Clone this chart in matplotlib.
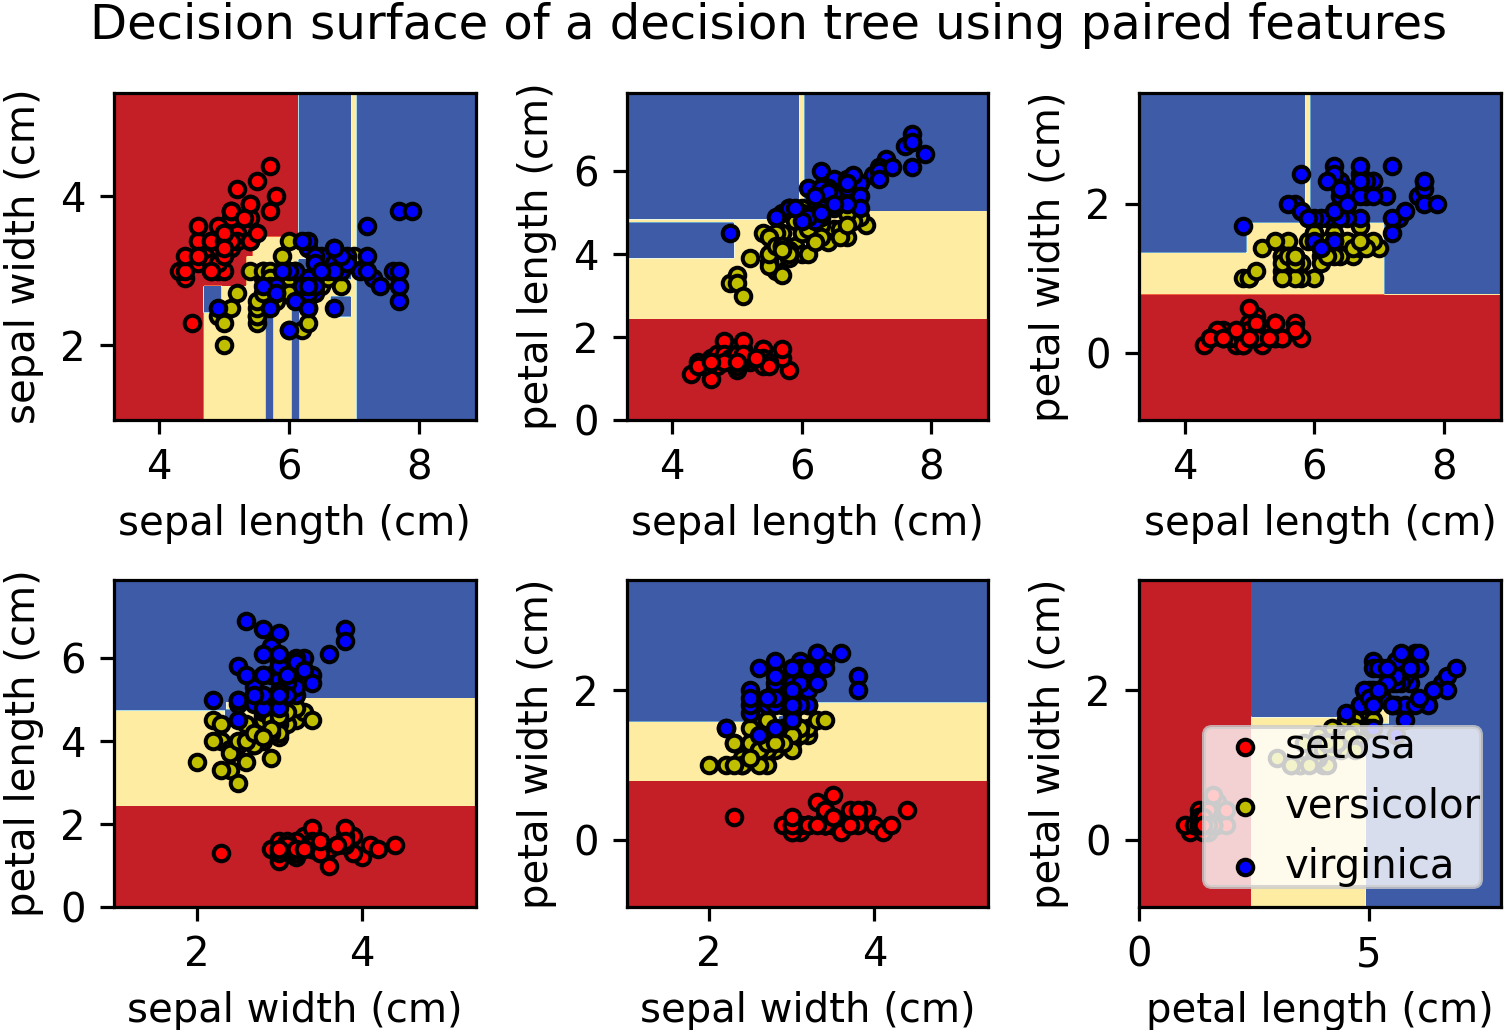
import numpy as np
import matplotlib
matplotlib.use("Agg")
import matplotlib.pyplot as plt

# iris measurements (cm), 50 setosa, 50 versicolor, 50 virginica
sepal_length = [
    5.1, 4.9, 4.7, 4.6, 5.0, 5.4, 4.6, 5.0, 4.4, 4.9, 5.4, 4.8, 4.8, 4.3, 5.8, 5.7, 5.4, 5.1, 5.7, 5.1,
    5.4, 5.1, 4.6, 5.1, 4.8, 5.0, 5.0, 5.2, 5.2, 4.7, 4.8, 5.4, 5.2, 5.5, 4.9, 5.0, 5.5, 4.9, 4.4, 5.1,
    5.0, 4.5, 4.4, 5.0, 5.1, 4.8, 5.1, 4.6, 5.3, 5.0,
    7.0, 6.4, 6.9, 5.5, 6.5, 5.7, 6.3, 4.9, 6.6, 5.2, 5.0, 5.9, 6.0, 6.1, 5.6, 6.7, 5.6, 5.8, 6.2, 5.6,
    5.9, 6.1, 6.3, 6.1, 6.4, 6.6, 6.8, 6.7, 6.0, 5.7, 5.5, 5.5, 5.8, 6.0, 5.4, 6.0, 6.7, 6.3, 5.6, 5.5,
    5.5, 6.1, 5.8, 5.0, 5.6, 5.7, 5.7, 6.2, 5.1, 5.7,
    6.3, 5.8, 7.1, 6.3, 6.5, 7.6, 4.9, 7.3, 6.7, 7.2, 6.5, 6.4, 6.8, 5.7, 5.8, 6.4, 6.5, 7.7, 7.7, 6.0,
    6.9, 5.6, 7.7, 6.3, 6.7, 7.2, 6.2, 6.1, 6.4, 7.2, 7.4, 7.9, 6.4, 6.3, 6.1, 7.7, 6.3, 6.4, 6.0, 6.9,
    6.7, 6.9, 5.8, 6.8, 6.7, 6.7, 6.3, 6.5, 6.2, 5.9,
]
sepal_width = [
    3.5, 3.0, 3.2, 3.1, 3.6, 3.9, 3.4, 3.4, 2.9, 3.1, 3.7, 3.4, 3.0, 3.0, 4.0, 4.4, 3.9, 3.5, 3.8, 3.8,
    3.4, 3.7, 3.6, 3.3, 3.4, 3.0, 3.4, 3.5, 3.4, 3.2, 3.1, 3.4, 4.1, 4.2, 3.1, 3.2, 3.5, 3.6, 3.0, 3.4,
    3.5, 2.3, 3.2, 3.5, 3.8, 3.0, 3.8, 3.2, 3.7, 3.3,
    3.2, 3.2, 3.1, 2.3, 2.8, 2.8, 3.3, 2.4, 2.9, 2.7, 2.0, 3.0, 2.2, 2.9, 2.9, 3.1, 3.0, 2.7, 2.2, 2.5,
    3.2, 2.8, 2.5, 2.8, 2.9, 3.0, 2.8, 3.0, 2.9, 2.6, 2.4, 2.4, 2.7, 2.7, 3.0, 3.4, 3.1, 2.3, 3.0, 2.5,
    2.6, 3.0, 2.6, 2.3, 2.7, 3.0, 2.9, 2.9, 2.5, 2.8,
    3.3, 2.7, 3.0, 2.9, 3.0, 3.0, 2.5, 2.9, 2.5, 3.6, 3.2, 2.7, 3.0, 2.5, 2.8, 3.2, 3.0, 3.8, 2.6, 2.2,
    3.2, 2.8, 2.8, 2.7, 3.3, 3.2, 2.8, 3.0, 2.8, 3.0, 2.8, 3.8, 2.8, 2.8, 2.6, 3.0, 3.4, 3.1, 3.0, 3.1,
    3.1, 3.1, 2.7, 3.2, 3.3, 3.0, 2.5, 3.0, 3.4, 3.0,
]
petal_length = [
    1.4, 1.4, 1.3, 1.5, 1.4, 1.7, 1.4, 1.5, 1.4, 1.5, 1.5, 1.6, 1.4, 1.1, 1.2, 1.5, 1.3, 1.4, 1.7, 1.5,
    1.7, 1.5, 1.0, 1.7, 1.9, 1.6, 1.6, 1.5, 1.4, 1.6, 1.6, 1.5, 1.5, 1.4, 1.5, 1.2, 1.3, 1.4, 1.3, 1.5,
    1.3, 1.3, 1.3, 1.6, 1.9, 1.4, 1.6, 1.4, 1.5, 1.4,
    4.7, 4.5, 4.9, 4.0, 4.6, 4.5, 4.7, 3.3, 4.6, 3.9, 3.5, 4.2, 4.0, 4.7, 3.6, 4.4, 4.5, 4.1, 4.5, 3.9,
    4.8, 4.0, 4.9, 4.7, 4.3, 4.4, 4.8, 5.0, 4.5, 3.5, 3.8, 3.7, 3.9, 5.1, 4.5, 4.5, 4.7, 4.4, 4.1, 4.0,
    4.4, 4.6, 4.0, 3.3, 4.2, 4.2, 4.2, 4.3, 3.0, 4.1,
    6.0, 5.1, 5.9, 5.6, 5.8, 6.6, 4.5, 6.3, 5.8, 6.1, 5.1, 5.3, 5.5, 5.0, 5.1, 5.3, 5.5, 6.7, 6.9, 5.0,
    5.7, 4.9, 6.7, 4.9, 5.7, 6.0, 4.8, 4.9, 5.6, 5.8, 6.1, 6.4, 5.6, 5.1, 5.6, 6.1, 5.6, 5.5, 4.8, 5.4,
    5.6, 5.1, 5.1, 5.9, 5.7, 5.2, 5.0, 5.2, 5.4, 5.1,
]
petal_width = [
    0.2, 0.2, 0.2, 0.2, 0.2, 0.4, 0.3, 0.2, 0.2, 0.1, 0.2, 0.2, 0.1, 0.1, 0.2, 0.4, 0.4, 0.3, 0.3, 0.3,
    0.2, 0.4, 0.2, 0.5, 0.2, 0.2, 0.4, 0.2, 0.2, 0.2, 0.2, 0.4, 0.1, 0.2, 0.2, 0.2, 0.2, 0.1, 0.2, 0.2,
    0.3, 0.3, 0.2, 0.6, 0.4, 0.3, 0.2, 0.2, 0.2, 0.2,
    1.4, 1.5, 1.5, 1.3, 1.5, 1.3, 1.6, 1.0, 1.3, 1.4, 1.0, 1.5, 1.0, 1.4, 1.3, 1.4, 1.5, 1.0, 1.5, 1.1,
    1.8, 1.3, 1.5, 1.2, 1.3, 1.4, 1.4, 1.7, 1.5, 1.0, 1.1, 1.0, 1.2, 1.6, 1.5, 1.6, 1.5, 1.3, 1.3, 1.3,
    1.2, 1.4, 1.2, 1.0, 1.3, 1.2, 1.3, 1.3, 1.1, 1.3,
    2.5, 1.9, 2.1, 1.8, 2.2, 2.1, 1.7, 1.8, 1.8, 2.5, 2.0, 1.9, 2.1, 2.0, 2.4, 2.3, 1.8, 2.2, 2.3, 1.5,
    2.3, 2.0, 2.0, 1.8, 2.1, 1.8, 1.8, 1.8, 2.1, 1.6, 1.9, 2.0, 2.2, 1.5, 1.4, 2.3, 2.4, 1.8, 1.8, 2.1,
    2.4, 2.3, 1.9, 2.3, 2.5, 2.3, 1.9, 2.0, 2.3, 1.8,
]
target = [0] * 50 + [1] * 50 + [2] * 50

feature_names = ["sepal length (cm)", "sepal width (cm)", "petal length (cm)", "petal width (cm)"]
target_names = ["setosa", "versicolor", "virginica"]
pairs = [[0, 1], [0, 2], [0, 3], [1, 2], [1, 3], [2, 3]]
# order in which the two features are tried when splits tie (sklearn shuffles this)
tie_orders = [[0, 1], [1, 0], [0, 1], [0, 1], [0, 1], [0, 1]]

n_classes = 3
plot_colors = "ryb"
plot_step = 0.02


def gini(counts):
    n = counts.sum()
    if n == 0:
        return 0.0
    p = counts / n
    return 1.0 - np.sum(p * p)


def build_tree(X, y, feature_order):
    """Fully grown CART tree (gini, midpoint thresholds)."""
    counts = np.bincount(y, minlength=n_classes)
    node = {"value": int(np.argmax(counts))}
    if gini(counts) <= 1e-12:
        return node
    best = None
    best_score = -np.inf
    n = len(y)
    for f in feature_order:
        order = np.argsort(X[:, f], kind="mergesort")
        xs = X[order, f]
        ys = y[order]
        left = np.zeros(n_classes)
        right = counts.astype(float).copy()
        for i in range(n - 1):
            left[ys[i]] += 1
            right[ys[i]] -= 1
            if xs[i + 1] <= xs[i] + 1e-7:
                continue
            # sklearn proxy improvement
            score = np.sum(left ** 2) / (i + 1) + np.sum(right ** 2) / (n - i - 1)
            if score > best_score + 1e-12:
                best_score = score
                best = (f, (xs[i] + xs[i + 1]) / 2.0)
    if best is None:
        return node
    f, thr = best
    mask = X[:, f] <= thr
    node["feature"] = f
    node["threshold"] = thr
    node["left"] = build_tree(X[mask], y[mask], feature_order)
    node["right"] = build_tree(X[~mask], y[~mask], feature_order)
    return node


def predict(node, P):
    out = np.empty(len(P), dtype=int)
    stack = [(node, np.arange(len(P)))]
    while stack:
        nd, idx = stack.pop()
        if "feature" not in nd:
            out[idx] = nd["value"]
            continue
        m = P[idx, nd["feature"]] <= nd["threshold"]
        stack.append((nd["left"], idx[m]))
        stack.append((nd["right"], idx[~m]))
    return out


data = np.column_stack([sepal_length, sepal_width, petal_length, petal_width])
labels = np.array(target)

dpi = 289
plt.figure(figsize=(1505 / dpi, 1030 / dpi), dpi=dpi)

for pairidx, pair in enumerate(pairs):
    X = data[:, pair]
    y = labels
    tree = build_tree(X, y, tie_orders[pairidx])

    ax = plt.subplot(2, 3, pairidx + 1)
    x_min, x_max = X[:, 0].min() - 1, X[:, 0].max() + 1
    y_min, y_max = X[:, 1].min() - 1, X[:, 1].max() + 1
    xx, yy = np.meshgrid(np.arange(x_min, x_max, plot_step),
                         np.arange(y_min, y_max, plot_step))
    Z = predict(tree, np.c_[xx.ravel(), yy.ravel()]).reshape(xx.shape)
    plt.contourf(xx, yy, Z, cmap=plt.cm.RdYlBu)

    plt.xlabel(feature_names[pair[0]])
    plt.ylabel(feature_names[pair[1]])

    for i, color in zip(range(n_classes), plot_colors):
        idx = np.where(y == i)
        plt.scatter(X[idx, 0], X[idx, 1], c=color, label=target_names[i],
                    edgecolor="black", s=15)

plt.subplots_adjust(left=0.0757, right=0.9973, top=0.9097, bottom=0.1194,
                    wspace=0.417, hspace=0.489)
plt.suptitle("Decision surface of a decision tree using paired features", x=0.511, y=0.998)
plt.legend(loc="lower right", borderpad=0, handletextpad=0)
plt.axis("tight")
plt.savefig("out.png", dpi=dpi)
